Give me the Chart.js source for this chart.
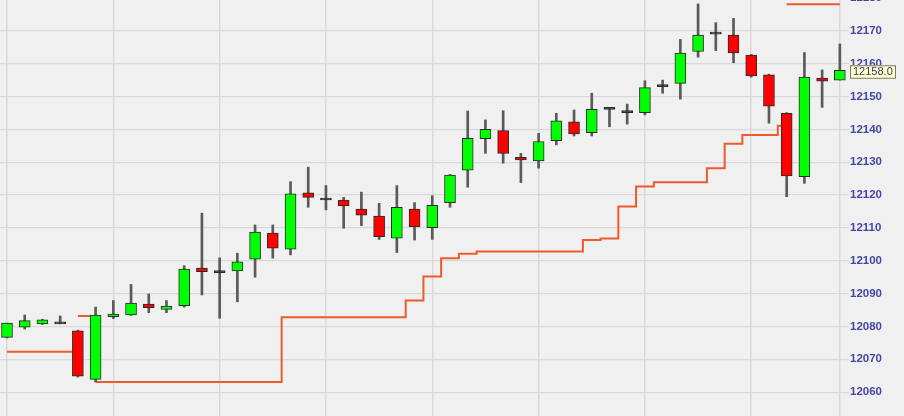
<!DOCTYPE html>
<html><head><meta charset="utf-8">
<script src="https://cdn.jsdelivr.net/npm/chart.js@4.4.1/dist/chart.umd.min.js"></script>
<style>
html,body{margin:0;padding:0;background:#f0f0f0;overflow:hidden;}
#wrap{width:904px;height:416px;overflow:hidden;position:relative;}
#c{position:absolute;left:0;top:-10px;}
</style></head><body>
<div id="wrap"><canvas id="c" width="904" height="435"></canvas></div>
<script>
// bar numbers (x positions on the index axis)
const bars = [1,2,3,4,5,6,7,8,9,10,11,12,13,14,15,16,17,18,19,20,21,22,23,24,25,26,27,28,29,30,31,32,33,34,35,36,37,38,39,40,41,42,43,44,45,46,47,48];
const opens  = [12076.7,12079.8,12080.8,12080.8,12078.7,12063.9,12083.0,12083.5,12086.8,12085.2,12086.3,12097.8,12096.4,12096.9,12100.5,12108.4,12103.5,12120.7,12118.5,12118.5,12115.7,12113.6,12106.9,12115.7,12110.1,12117.7,12127.6,12137.2,12139.6,12131.5,12130.4,12136.6,12142.3,12139.0,12146.1,12145.1,12145.1,12153.0,12154.0,12163.7,12169.0,12168.7,12162.6,12156.6,12144.9,12125.6,12155.6,12155.0];
const highs  = [12081.0,12083.5,12082.2,12083.2,12078.9,12085.9,12087.9,12092.8,12089.9,12087.9,12098.5,12114.5,12100.9,12102.3,12110.9,12110.9,12124.1,12128.5,12122.9,12119.3,12120.9,12117.5,12122.9,12117.7,12119.8,12126.3,12145.6,12142.9,12145.7,12132.7,12138.8,12144.9,12145.9,12151.0,12146.2,12147.7,12154.8,12155.0,12167.4,12178.2,12172.5,12173.8,12162.8,12156.8,12145.1,12163.4,12158.1,12166.0];
const lows   = [12076.5,12079.2,12080.6,12080.8,12064.6,12063.1,12082.4,12083.4,12084.2,12084.2,12085.9,12089.6,12082.5,12087.5,12095.0,12100.8,12101.8,12116.3,12115.5,12109.9,12110.7,12106.5,12102.5,12106.3,12106.5,12116.3,12122.4,12132.7,12129.7,12123.8,12128.2,12135.3,12138.0,12138.0,12140.8,12141.6,12144.4,12151.0,12149.2,12162.0,12164.0,12160.3,12155.9,12141.9,12119.5,12123.6,12146.7,12155.0];
const closes = [12081.0,12081.8,12082.0,12080.8,12064.9,12083.5,12083.8,12087.1,12085.7,12086.2,12097.5,12096.7,12096.4,12099.7,12108.7,12103.8,12120.4,12119.3,12118.5,12116.7,12113.9,12107.3,12116.3,12110.4,12116.9,12126.1,12137.3,12140.0,12132.7,12130.7,12136.3,12142.6,12138.6,12146.1,12146.1,12145.1,12152.7,12153.0,12163.2,12168.7,12169.0,12163.3,12156.3,12147.1,12125.8,12155.9,12154.7,12158.0];
// trailing stop (long side, first run)
const stopLongA = [12072.3,12072.3,12072.3,12072.3,12072.3,null,null,null,null,null,null,null,null,null,null,null,null,null,null,null,null,null,null,null,null,null,null,null,null,null,null,null,null,null,null,null,null,null,null,null,null,null,null,null,null,null,null,null];
// trailing stop (long side, second run)
const stopLongB = [null,null,null,null,null,12063.1,12063.1,12063.1,12063.1,12063.1,12063.1,12063.1,12063.1,12063.1,12063.1,12063.1,12082.8,12082.8,12082.8,12082.8,12082.8,12082.8,12082.8,12087.9,12095.2,12100.8,12102.1,12102.8,12102.8,12102.8,12102.8,12102.8,12102.8,12106.3,12106.8,12116.5,12122.6,12123.9,12123.9,12123.9,12128.2,12135.6,12138.3,12138.3,12141.1,null,null,null];
// trailing stop (short side)
const stopShort = [null,null,null,null,12083.2,12083.2,null,null,null,null,null,null,null,null,null,null,null,null,null,null,null,null,null,null,null,null,null,null,null,null,null,null,null,null,null,null,null,null,null,null,null,null,null,null,12178.1,12178.1,12178.1,12178.1];
// bars that carry a vertical grid line
const gridBars = [1,7,13,19,25,31,37,43,48];
// price axis
const yMin = 12050, yMax = 12180, yStep = 10;

const UP = '#00ff00', DOWN = '#ff0000', FLAT = '#303030', STOP = '#f05a2a';

const bodyData = bars.map((b,i)=>({x:b, y:[opens[i], closes[i]]}));
const wickData = bars.map((b,i)=>({x:b, y:[lows[i], highs[i]]}));
const bodyColors = bars.map((b,i)=> closes[i]>opens[i] ? UP : (closes[i]<opens[i] ? DOWN : FLAT));
const toLine = arr => bars.map((b,i)=>({x:b, y:arr[i]}));

const bgPlugin = {
  id:'bg',
  beforeDraw(chart){
    const c = chart.ctx; c.save(); c.fillStyle='#f0f0f0';
    c.fillRect(0,0,chart.width,chart.height); c.restore();
  }
};
const tagPlugin = {
  id:'tag',
  afterDraw(chart){
    const ys = chart.scales.y, c = chart.ctx;
    const last = closes[closes.length-1];
    const y = ys.getPixelForValue(last);
    const x0 = ys.left + 3;
    c.save();
    c.fillStyle = '#ffffc6';
    c.fillRect(x0, y-5, 46, 13.5);
    c.strokeStyle = '#7a7a6a'; c.lineWidth = 1;
    c.strokeRect(x0+0.5, y-4.5, 45, 12.5);
    c.fillStyle = '#35358a';
    c.font = '11px "Liberation Sans", Arial, sans-serif';
    c.textBaseline = 'middle'; c.textAlign = 'left';
    c.fillText(last.toFixed(1), x0+3, y+2);
    c.restore();
  }
};

new Chart(document.getElementById('c'), {
  type:'bar',
  data:{
    datasets:[
      {type:'line', data:toLine(stopLongA), borderColor:STOP, borderWidth:2, pointRadius:0, stepped:'middle', spanGaps:false, order:3},
      {type:'line', data:toLine(stopLongB), borderColor:STOP, borderWidth:2, pointRadius:0, stepped:'middle', spanGaps:false, order:3},
      {type:'line', data:toLine(stopShort), borderColor:STOP, borderWidth:2, pointRadius:0, stepped:'middle', spanGaps:false, order:3},
      {data:wickData, backgroundColor:'#5a5a5a', barThickness:2, grouped:false, borderWidth:0, order:2},
      {data:bodyData, backgroundColor:bodyColors, borderColor:'#2a2a2a', borderWidth:1, borderSkipped:false, barThickness:11, minBarLength:2, grouped:false, order:1}
    ]
  },
  options:{
    responsive:false, animation:false, devicePixelRatio:1,
    layout:{padding:{top:8,left:0,right:0,bottom:0}},
    plugins:{legend:{display:false}, tooltip:{enabled:false}},
    scales:{
      x:{
        type:'linear', min:0.605, max:48.404, offset:false,
        afterBuildTicks(scale){ scale.ticks = gridBars.map(v=>({value:v})); },
        afterFit(scale){ scale.paddingLeft = 0; scale.paddingRight = 0; scale.height = 0; },
        ticks:{display:false},
        grid:{color:'#d9d9d9', lineWidth:1.5, drawTicks:false, offset:false},
        border:{display:false}
      },
      y:{
        position:'right', min:yMin, max:yMax,
        afterFit(scale){ scale.width = 57; scale.paddingTop = 0; scale.paddingBottom = 0; },
        ticks:{stepSize:yStep, padding:1, color:'#4545a6',
               font:{family:'"Liberation Sans", Arial, sans-serif', size:11.5, weight:'bold'},
               callback:v=>String(v)},
        grid:{color:'#d9d9d9', lineWidth:1.2, tickLength:2},
        border:{display:false}
      }
    }
  },
  plugins:[bgPlugin, tagPlugin]
});
</script>
</body></html>
